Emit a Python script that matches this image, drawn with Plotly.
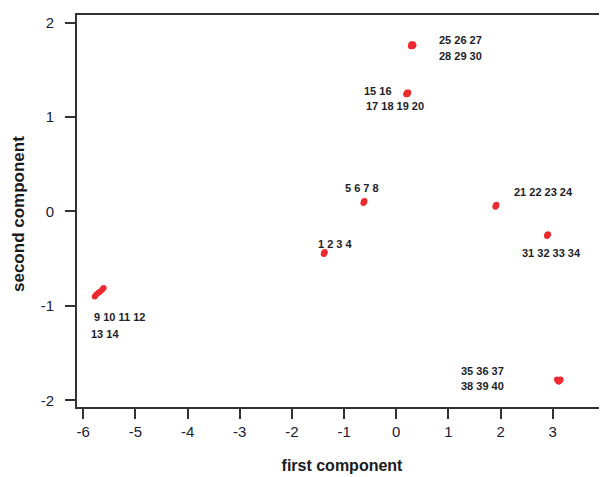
import plotly.graph_objects as go

# sample ids and their principal component scores
samples = list(range(1, 41))
pc1 = [-1.39, -1.38, -1.37, -1.38,
       -0.63, -0.62, -0.61, -0.62,
       -5.78, -5.75, -5.71, -5.68, -5.64, -5.61,
       0.19, 0.20, 0.21, 0.22, 0.23, 0.21,
       1.90, 1.91, 1.92, 1.91,
       0.28, 0.30, 0.32, 0.33, 0.31, 0.29,
       2.89, 2.90, 2.91, 2.90,
       3.08, 3.10, 3.12, 3.14, 3.15, 3.11]
pc2 = [-0.45, -0.44, -0.43, -0.44,
       0.09, 0.10, 0.11, 0.10,
       -0.90, -0.88, -0.86, -0.85, -0.83, -0.81,
       1.24, 1.25, 1.26, 1.25, 1.26, 1.24,
       0.05, 0.06, 0.07, 0.06,
       1.75, 1.76, 1.77, 1.76, 1.75, 1.77,
       -0.26, -0.25, -0.24, -0.25,
       -1.78, -1.79, -1.80, -1.79, -1.78, -1.80]

# cluster label lines: (text, index of the sample the label sits next to)
label_lines = ["1 2 3 4", "5 6 7 8", "9 10 11 12", "13 14", "15 16", "17 18 19 20",
               "21 22 23 24", "25 26 27", "28 29 30", "31 32 33 34",
               "35 36 37", "38 39 40"]
label_anchor = [1, 5, 11, 11, 17, 17, 21, 26, 26, 32, 37, 37]

x_ticks = [-6, -5, -4, -3, -2, -1, 0, 1, 2, 3, 4]
y_ticks = [-2, -1, 0, 1, 2]

x_title = "first component"
y_title = "second component"

# pixel offsets for the labels (style only)
label_shift = [(-8, 10), (-20, 15), (-6, -24), (-9, -41), (-45, 1), (-43, -14),
               (17, 15), (25, 5), (25, -11), (-28, -18), (-100, 11), (-100, -4)]

fig = go.Figure()
fig.add_trace(go.Scatter(
    x=pc1, y=pc2, mode="markers", text=[str(s) for s in samples],
    marker=dict(color="#ee2a2e", size=6, line=dict(width=0)),
    hoverinfo="text", showlegend=False, cliponaxis=False))

for txt, a, (dx, dy) in zip(label_lines, label_anchor, label_shift):
    i = samples.index(a)
    fig.add_annotation(x=pc1[i], y=pc2[i], text="<b>" + txt + "</b>", showarrow=False,
                       xanchor="left", yanchor="middle", xshift=dx, yshift=dy,
                       font=dict(family="Liberation Sans", size=11, color="#1e1e28"),
                       bgcolor="rgba(0,0,0,0)")

# y-axis title placed as a rotated annotation
fig.add_annotation(x=0, y=0.5, xref="paper", yref="paper", text="<b>" + y_title + "</b>",
                   textangle=-90, showarrow=False, xanchor="center", yanchor="middle",
                   xshift=-59, yshift=-3,
                   font=dict(family="Liberation Sans", size=17, color="#1a1a1a"))

axis_font = dict(family="Liberation Sans", size=15, color="#1a2035")
# the page body adds an 8 px offset, so the figure is 8 px smaller each way
fig.update_layout(
    width=599, height=469,
    margin=dict(l=69, r=0, t=7, b=70, autoexpand=False),
    paper_bgcolor="white", plot_bgcolor="white",
    font=dict(family="Liberation Sans"),
    xaxis=dict(range=[-6.12, 4.04], tickvals=x_ticks, ticktext=[str(v) for v in x_ticks],
               showgrid=False, zeroline=False, showline=True, linecolor="#333",
               linewidth=2, mirror=True, ticks="outside", ticklen=10, tickwidth=2,
               tickcolor="#333", tickfont=axis_font, automargin=False,
               ticklabeloverflow="allow",
               title=dict(text="<b>" + x_title + "</b>", standoff=21,
                          font=dict(family="Liberation Sans", size=16, color="#1a1a1a"))),
    yaxis=dict(range=[-2.07, 2.08], tickvals=y_ticks, ticktext=[str(v) for v in y_ticks],
               showgrid=False, zeroline=False, showline=True, linecolor="#333",
               linewidth=2, mirror=False, ticks="outside", ticklen=10, tickwidth=2,
               tickcolor="#333", tickfont=axis_font, automargin=False,
               ticklabelstandoff=8),
)

fig.write_html("out.html")
